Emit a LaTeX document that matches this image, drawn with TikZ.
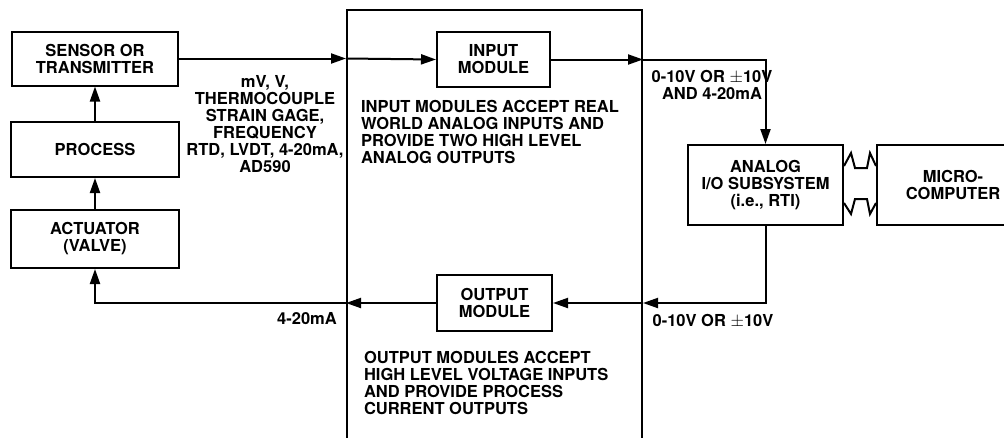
\documentclass[tikz,border=0pt]{standalone}
\usepackage{fontspec}
\setmainfont{TeX Gyre Heros}
\usetikzlibrary{arrows.meta}
\begin{document}
\begin{tikzpicture}[x=1pt,y=-1pt, line width=2pt,
  txt/.style={font=\bfseries\fontsize{16.5}{17}\selectfont, inner sep=0pt},
  blk/.style={txt, draw, align=center},
  lbl/.style={txt, align=center},
  note/.style={txt, align=left, anchor=north west},
  arr/.style={-{Triangle[length=15pt,width=10pt]}},
  zig/.style={line width=2pt, line join=miter}]
\clip (0,0) rectangle (1004,437);
% outer module frame (open at bottom, clipped)
\node[draw, minimum width=295pt, minimum height=440pt, inner sep=0pt] (frame) at (494.5,230) {};
% blocks
\node[blk, minimum width=166pt, minimum height=54pt] (sensor) at (95,58.5) {SENSOR OR\\TRANSMITTER};
\node[blk, minimum width=168pt, minimum height=55pt] (process) at (95,149.5) {PROCESS};
\node[blk, minimum width=168pt, minimum height=58pt] (actuator) at (95,239) {ACTUATOR\\(VALVE)};
\node[blk, minimum width=113pt, minimum height=55pt] (input) at (493.5,59.5) {INPUT\\MODULE};
\node[blk, minimum width=115pt, minimum height=56pt] (output) at (494.5,303) {OUTPUT\\MODULE};
\node[blk, minimum width=155pt, minimum height=80pt] (analog) at (765.5,185) {ANALOG\\I/O SUBSYSTEM\\(i.e., RTI)};
\node[blk, minimum width=152pt, minimum height=80pt] (micro) at (953,185) {MICRO-\\COMPUTER};
% coordinates
\coordinate (finL) at (frame.west |- sensor.east);
\coordinate (finR) at (frame.east |- input.east);
\coordinate (turn1) at (analog.north |- input.east);
\coordinate (turn2) at (analog.south |- output.east);
\coordinate (foutR) at (frame.east |- output.east);
\coordinate (foutL) at (frame.west |- output.west);
\coordinate (turn3) at (actuator.south |- output.west);
% connectors
\draw[arr] (sensor.east) -- (finL);
\draw[arr] (finL) -- (input.west);
\draw[arr] (input.east) -- (finR);
\draw[arr] (finR) -- (turn1) -- (analog.north);
\draw[arr] (analog.south) -- (turn2) -- (foutR);
\draw[arr] (foutR) -- (output.east);
\draw[arr] (output.west) -- (foutL);
\draw[arr] (foutL) -- (turn3) -- (actuator.south);
\draw[arr] (actuator.north) -- (process.south);
\draw[arr] (process.north) -- (sensor.south);
% bus symbols between analog and micro
\coordinate (bA) at (analog.east |- 0,166);
\coordinate (bB) at (micro.west |- 0,166);
\coordinate (bC) at (analog.east |- 0,203);
\coordinate (bD) at (micro.west |- 0,203);
\draw[zig] (bA) -- (851,153) -- (855,168) -- (867,168) -- (870,153) -- (bB);
\draw[zig] (bC) -- (851,214) -- (855,199) -- (867,199) -- (870,214) -- (bD);
% labels
\node[lbl] (sig) at (265,124) {mV, V,\\THERMOCOUPLE\\STRAIN GAGE,\\FREQUENCY\\RTD, LVDT, 4-20mA,\\AD590};
\node[lbl] (ain) at (712,85) {0-10V OR $\pm$10V\\AND 4-20mA};
\node[lbl] (aout) at (713,321) {0-10V OR $\pm$10V};
\node[lbl] (act) at (307,319) {4-20mA};
\node[note] (innote) at (360,99) {INPUT MODULES ACCEPT REAL\\WORLD ANALOG INPUTS AND\\PROVIDE TWO HIGH LEVEL\\ANALOG OUTPUTS};
\node[note] (outnote) at (363,350) {OUTPUT MODULES ACCEPT\\HIGH LEVEL VOLTAGE INPUTS\\AND PROVIDE PROCESS\\CURRENT OUTPUTS};
\end{tikzpicture}
\end{document}
